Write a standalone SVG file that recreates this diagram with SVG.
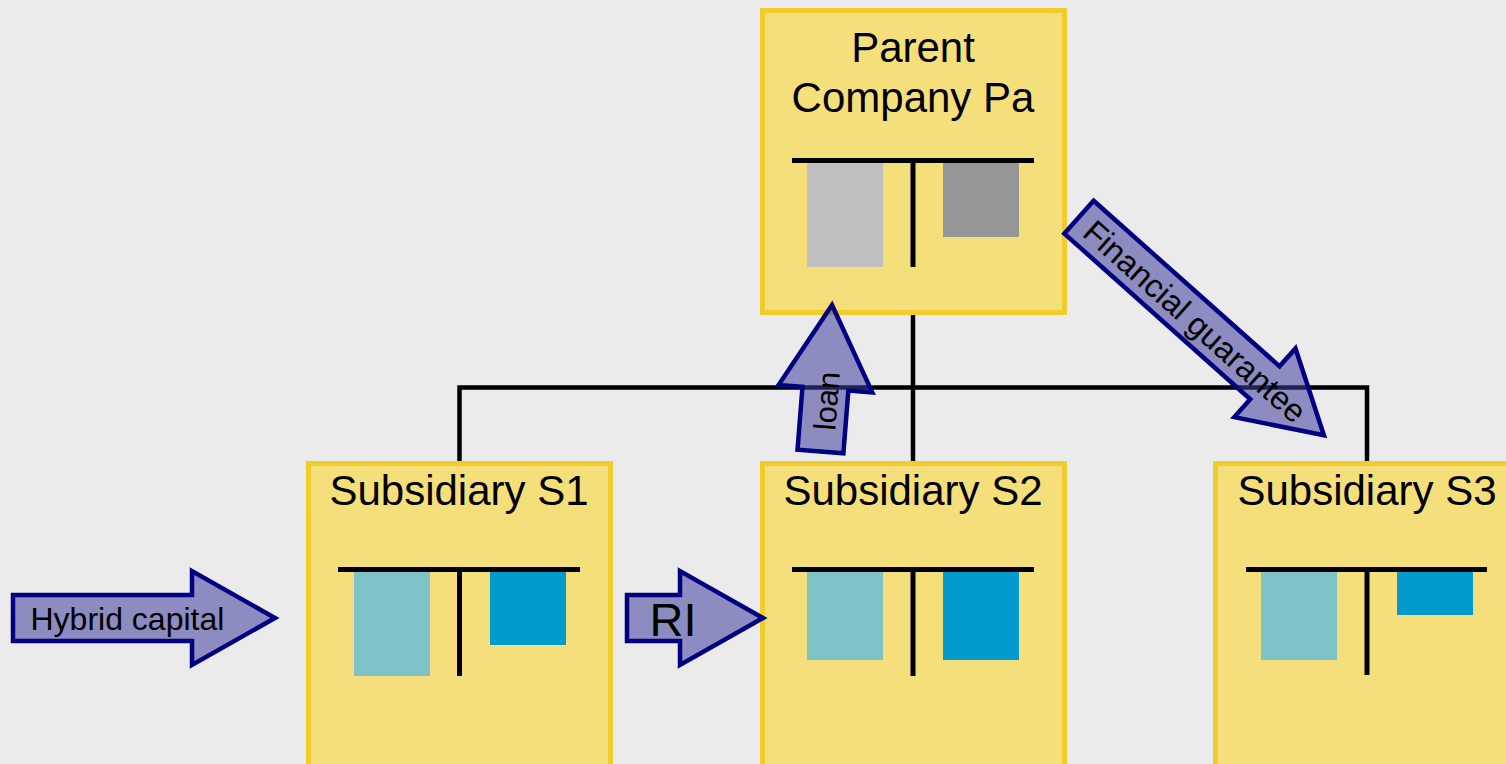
<svg xmlns="http://www.w3.org/2000/svg" width="1506" height="764" viewBox="0 0 1506 764">
<style>
.box{fill:#F5DF7B;stroke:#F0CC2C;stroke-width:5}
.t{stroke:#000;stroke-width:5;fill:none}
.conn{stroke:#000;stroke-width:4.5;fill:none}
.lbl{font-family:"Liberation Sans",Arial,sans-serif;fill:#000}
.title{font-size:42px;text-anchor:middle}
.arrow{fill:#3E3E9C;fill-opacity:0.55;stroke:#000080;stroke-width:4.5;stroke-linejoin:miter}
.lg{fill:#C0C0C0}.dg{fill:#969696}.tl{fill:#7FC2C8}.bl{fill:#009BCC}
</style>
<rect x="0" y="0" width="1506" height="764" fill="#EBEBEB"/>
<g id="connectors">
<path class="conn" d="M913,312 V466"/>
<path class="conn" d="M459.5,466 V387.5 H1367 V466"/>
</g>
<g id="parent">
<rect class="box" x="762.5" y="10.5" width="302" height="302"/>
<text class="lbl title" x="913" y="62">Parent</text>
<text class="lbl title" x="913" y="112">Company Pa</text>
<rect class="lg" x="807" y="163" width="76" height="104"/>
<rect class="dg" x="943" y="163" width="76" height="74"/>
<path class="t" d="M792,160.5 H1034 M913,160.5 V267"/>
</g>
<g id="s1">
<rect class="box" x="308.5" y="463.5" width="302" height="320"/>
<text class="lbl title" x="459" y="505">Subsidiary S1</text>
<rect class="tl" x="354" y="572" width="76" height="104"/>
<rect class="bl" x="490" y="572" width="76" height="73"/>
<path class="t" d="M338,569.5 H580 M459.5,569.5 V676"/>
</g>
<g id="s2">
<rect class="box" x="762.5" y="463.5" width="302" height="320"/>
<text class="lbl title" x="913" y="505">Subsidiary S2</text>
<rect class="tl" x="807" y="572" width="76" height="88"/>
<rect class="bl" x="943" y="572" width="76" height="88"/>
<path class="t" d="M792,569.5 H1034 M913,569.5 V676"/>
</g>
<g id="s3">
<rect class="box" x="1215.5" y="463.5" width="302" height="320"/>
<text class="lbl title" x="1367" y="505">Subsidiary S3</text>
<rect class="tl" x="1261" y="572" width="76" height="88"/>
<rect class="bl" x="1397" y="572" width="76" height="43"/>
<path class="t" d="M1246,569.5 H1487 M1367,569.5 V675"/>
</g>
<g id="hybrid-capital">
<path class="arrow" d="M13,595 L192,595 L192,571 L275,618 L192,665 L192,641 L13,641 Z"/>
<text class="lbl" x="30.5" y="630" font-size="32">Hybrid capital</text>
</g>
<g id="ri">
<path class="arrow" d="M627,595 L680,595 L680,571 L763,618 L680,665 L680,641 L627,641 Z"/>
<text class="lbl" x="649.5" y="636" font-size="47">RI</text>
</g>
<g id="loan" transform="translate(832,305) rotate(4.5)">
<path class="arrow" d="M0,0 L47,84 L23,84 L23,147 L-23,147 L-23,84 L-47,84 Z"/>
<text class="lbl" transform="translate(13,96) rotate(-90)" text-anchor="middle" font-size="31">loan</text>
</g>
<g id="financial-guarantee" transform="translate(1077.5,215.8) rotate(41.7)">
<path class="arrow" d="M2,-22 L251,-22 L251,-46 L330,0 L251,46 L251,22 L2,22 Z"/>
<text class="lbl" x="158" y="12" text-anchor="middle" font-size="32.5">Financial guarantee</text>
</g>
</svg>
